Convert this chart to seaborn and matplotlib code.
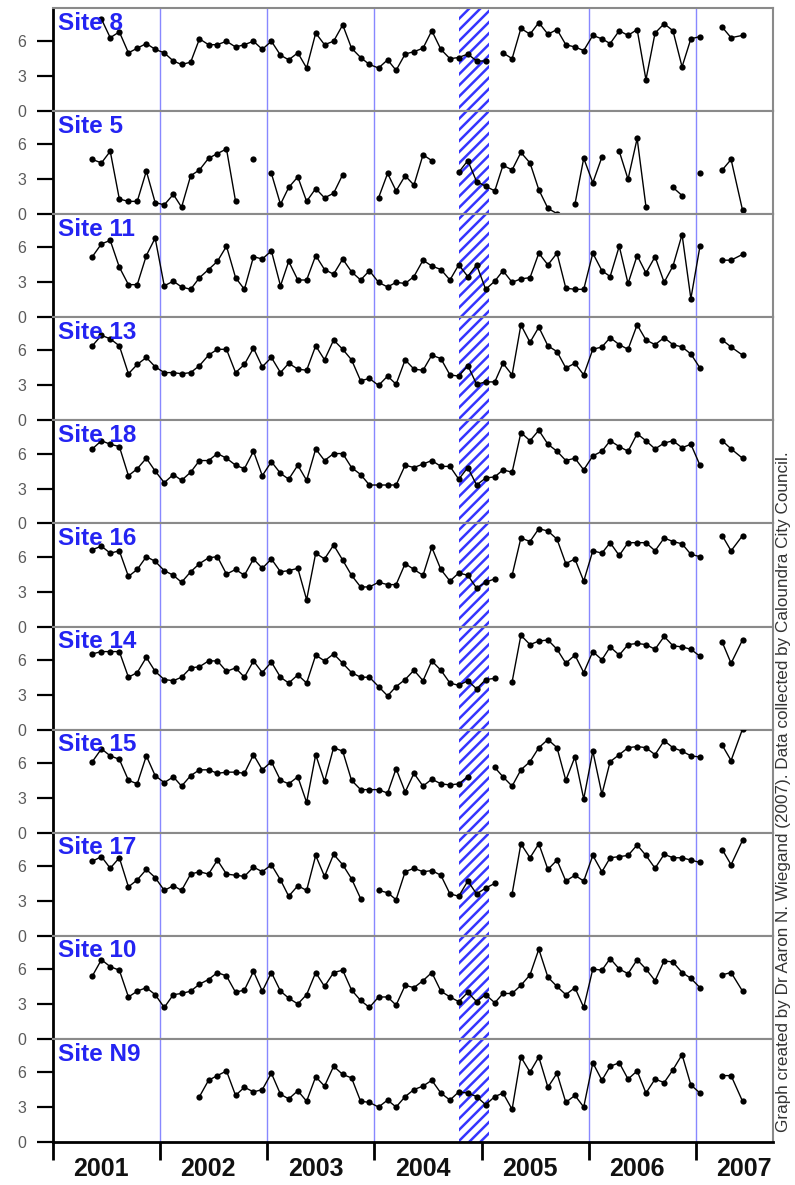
import numpy as np
import pandas as pd
import matplotlib
matplotlib.use("Agg")
import matplotlib.pyplot as plt
import seaborn as sns

sns.set_style("white")
plt.rcParams["font.family"] = ["Liberation Sans", "DejaVu Sans"]
plt.rcParams["hatch.linewidth"] = 1.8

# Sampling dates: monthly visits May 2001 - Jan 2007, then three visits in 2007
monthly = pd.date_range("2001-05-01", "2007-01-01", freq="MS") + pd.Timedelta(days=14)
extra_visits = pd.to_datetime(["2007-04-01", "2007-05-01", "2007-06-09"])
sample_dates = monthly.append(extra_visits)

site_names = ["Site 8", "Site 5", "Site 11", "Site 13", "Site 18", "Site 16",
              "Site 14", "Site 15", "Site 17", "Site 10", "Site N9"]

N = None
# one row per year: 2001 (May-Dec), 2002 ... 2006, then Jan 2007 + three 2007 visits
site_8 = [N, 7.9, 6.3, 6.8, 5.0, 5.4, 5.8, 5.3,
          5.0, 4.3, 4.0, 4.2, 6.2, 5.7, 5.7, 6.0, 5.5, 5.7, 6.0, 5.3,
          6.0, 4.8, 4.4, 5.0, 3.7, 6.7, 5.7, 6.0, 7.4, 5.4, 4.6, 4.0,
          3.7, 4.4, 3.5, 4.9, 5.1, 5.4, 6.9, 5.3, 4.5, 4.6, 4.9, 4.3,
          4.3, N, 5.0, 4.5, 7.1, 6.6, 7.6, 6.6, 7.0, 5.7, 5.5, 5.2,
          6.5, 6.2, 5.8, 6.9, 6.5, 7.0, 2.7, 6.7, 7.5, 6.9, 3.8, 6.2,
          6.4, 7.2, 6.3, 6.5]
site_5 = [4.7, 4.4, 5.4, 1.3, 1.1, 1.1, 3.7, 1.0,
          0.8, 1.7, 0.6, 3.3, 3.8, 4.8, 5.2, 5.6, 1.1, N, 4.7, N,
          3.5, 0.85, 2.3, 3.2, 1.1, 2.2, 1.4, 1.8, 3.4, N, N, N,
          1.4, 3.5, 2.0, 3.3, 2.5, 5.1, 4.6, N, N, 3.6, 4.6, 2.8,
          2.4, 2.0, 4.2, 3.8, 5.3, 4.4, 2.1, 0.5, 0.05, N, 0.85, 4.8,
          2.7, 4.9, N, 5.4, 3.0, 6.5, 0.65, N, N, 2.3, 1.6, N,
          3.5, 3.8, 4.7, 0.35]
site_11 = [5.2, 6.3, 6.6, 4.3, 2.8, 2.8, 5.3, 6.8,
           2.7, 3.1, 2.6, 2.4, 3.4, 4.1, 4.8, 6.1, 3.4, 2.4, 5.2, 5.0,
           5.7, 2.7, 4.8, 3.2, 3.2, 5.3, 4.1, 3.7, 5.0, 3.9, 3.2, 4.0,
           3.0, 2.6, 3.0, 2.9, 3.5, 4.9, 4.4, 4.1, 3.2, 4.5, 3.5, 4.5,
           2.4, 3.1, 4.0, 3.0, 3.3, 3.4, 5.5, 4.5, 5.5, 2.5, 2.4, 2.4,
           5.5, 4.0, 3.5, 6.1, 2.9, 5.3, 3.8, 5.2, 3.0, 4.4, 7.1, 1.6,
           6.1, 4.9, 4.9, 5.4]
site_13 = [6.4, 7.3, 7.0, 6.4, 4.0, 4.8, 5.4, 4.6,
           4.1, 4.1, 4.0, 4.1, 4.7, 5.6, 6.1, 6.1, 4.1, 4.8, 6.2, 4.6,
           5.4, 4.1, 4.9, 4.4, 4.3, 6.4, 5.2, 6.9, 6.1, 5.2, 3.4, 3.6,
           3.0, 3.8, 3.1, 5.2, 4.4, 4.3, 5.6, 5.3, 3.9, 3.8, 4.7, 3.1,
           3.3, 3.3, 4.9, 3.9, 8.2, 6.7, 8.0, 6.4, 5.9, 4.5, 4.9, 3.9,
           6.1, 6.3, 7.1, 6.5, 6.1, 8.2, 6.9, 6.5, 7.1, 6.5, 6.3, 5.7,
           4.5, 6.9, 6.3, 5.6]
site_18 = [6.4, 7.1, 6.8, 6.6, 4.1, 4.7, 5.6, 4.5,
           3.5, 4.2, 3.7, 4.4, 5.4, 5.4, 6.0, 5.6, 5.0, 4.7, 6.2, 4.1,
           5.3, 4.3, 3.8, 5.0, 3.7, 6.4, 5.4, 6.0, 6.0, 4.8, 4.2, 3.3,
           3.3, 3.3, 3.3, 5.0, 4.8, 5.1, 5.4, 4.9, 4.9, 3.8, 4.8, 3.3,
           3.9, 4.0, 4.6, 4.4, 7.8, 7.1, 8.0, 6.8, 6.2, 5.4, 5.6, 4.6,
           5.8, 6.2, 7.1, 6.6, 6.2, 7.7, 7.1, 6.4, 6.9, 7.1, 6.5, 6.8,
           5.0, 7.1, 6.4, 5.6]
site_16 = [6.6, 6.9, 6.3, 6.5, 4.3, 4.9, 6.0, 5.6,
           4.8, 4.4, 3.8, 4.7, 5.4, 5.9, 6.0, 4.5, 4.9, 4.4, 5.8, 5.0,
           5.8, 4.7, 4.8, 5.0, 2.3, 6.3, 5.8, 7.0, 5.7, 4.4, 3.4, 3.4,
           3.8, 3.6, 3.6, 5.4, 4.9, 4.4, 6.8, 4.9, 3.9, 4.6, 4.4, 3.3,
           3.8, 4.1, N, 4.4, 7.6, 7.3, 8.4, 8.2, 7.5, 5.4, 5.8, 3.9,
           6.5, 6.3, 7.2, 6.1, 7.2, 7.2, 7.2, 6.5, 7.6, 7.3, 7.1, 6.2,
           6.0, 7.8, 6.5, 7.8]
site_14 = [6.5, 6.7, 6.7, 6.7, 4.5, 4.9, 6.2, 5.0,
           4.3, 4.2, 4.5, 5.3, 5.4, 5.9, 5.9, 5.0, 5.3, 4.5, 5.9, 4.9,
           5.8, 4.5, 4.0, 4.7, 4.0, 6.4, 5.9, 6.5, 5.7, 4.9, 4.5, 4.5,
           3.7, 2.9, 3.7, 4.3, 5.1, 4.2, 5.9, 5.1, 4.0, 3.8, 4.2, 3.5,
           4.3, 4.4, N, 4.1, 8.1, 7.3, 7.6, 7.7, 6.9, 5.7, 6.4, 4.9,
           6.7, 6.0, 7.1, 6.4, 7.3, 7.4, 7.3, 6.9, 8.0, 7.2, 7.1, 6.9,
           6.3, 7.5, 5.7, 7.7]
site_15 = [6.1, 7.2, 6.6, 6.3, 4.5, 4.2, 6.6, 4.9,
           4.3, 4.8, 4.0, 4.9, 5.4, 5.4, 5.1, 5.2, 5.2, 5.1, 6.7, 5.4,
           6.1, 4.5, 4.2, 4.8, 2.6, 6.7, 4.4, 7.3, 7.0, 4.5, 3.7, 3.7,
           3.7, 3.4, 5.5, 3.5, 5.1, 4.0, 4.6, 4.2, 4.1, 4.2, 4.8, N,
           N, 5.6, 4.8, 4.0, 5.4, 6.1, 7.3, 8.0, 7.3, 4.5, 6.5, 2.9,
           7.0, 3.3, 6.1, 6.7, 7.3, 7.4, 7.3, 6.7, 7.9, 7.3, 7.0, 6.6,
           6.5, 7.5, 6.2, 8.9]
site_17 = [6.4, 6.8, 5.8, 6.7, 4.2, 4.8, 5.7, 5.0,
           3.9, 4.3, 3.9, 5.3, 5.5, 5.3, 6.5, 5.3, 5.2, 5.1, 5.9, 5.5,
           6.1, 4.8, 3.4, 4.3, 3.9, 6.9, 5.1, 7.0, 6.1, 4.9, 3.2, N,
           3.9, 3.7, 3.1, 5.5, 5.8, 5.5, 5.6, 5.2, 3.6, 3.4, 4.7, 3.6,
           4.1, 4.5, N, 3.6, 7.9, 6.7, 7.9, 5.7, 6.5, 4.7, 5.2, 4.7,
           6.9, 5.5, 6.7, 6.8, 6.9, 7.8, 6.9, 5.8, 7.0, 6.7, 6.7, 6.5,
           6.3, 7.4, 6.1, 8.2]
site_10 = [5.4, 6.8, 6.2, 5.9, 3.6, 4.1, 4.4, 3.8,
           2.7, 3.8, 3.9, 4.1, 4.7, 5.1, 5.7, 5.4, 4.0, 4.2, 5.8, 4.1,
           5.7, 4.1, 3.5, 3.0, 3.8, 5.7, 4.5, 5.7, 5.9, 4.2, 3.3, 2.7,
           3.6, 3.6, 2.9, 4.6, 4.4, 5.0, 5.7, 4.1, 3.6, 3.2, 4.0, 3.2,
           3.8, 3.1, 3.9, 3.9, 4.6, 5.5, 7.7, 5.3, 4.5, 3.8, 4.4, 2.7,
           6.0, 5.9, 6.9, 6.0, 5.6, 6.8, 6.0, 5.0, 6.7, 6.6, 5.7, 5.2,
           4.4, 5.5, 5.7, 4.1]
site_n9 = [N, N, N, N, N, N, N, N,
           N, N, N, N, 3.9, 5.3, 5.7, 6.1, 4.0, 4.7, 4.3, 4.5,
           5.9, 4.1, 3.7, 4.4, 3.5, 5.6, 4.8, 6.5, 5.8, 5.5, 3.5, 3.4,
           3.0, 3.6, 3.0, 3.9, 4.5, 4.8, 5.3, 4.2, 3.6, 4.3, 4.2, 3.9,
           3.2, 3.9, 4.2, 2.8, 7.3, 6.0, 7.3, 4.7, 5.9, 3.4, 4.0, 3.0,
           6.8, 5.3, 6.5, 6.8, 5.4, 6.1, 4.2, 5.4, 5.1, 6.2, 7.5, 4.9,
           4.2, 5.7, 5.7, 3.5]

site_values = [site_8, site_5, site_11, site_13, site_18, site_16,
               site_14, site_15, site_17, site_10, site_n9]

year_ticks = [2001, 2002, 2003, 2004, 2005, 2006, 2007]
year_lines = [2002, 2003, 2004, 2006, 2007]
wet_period = (2004.79, 2005.07)

days_in_year = np.where(sample_dates.is_leap_year, 366.0, 365.0)
decimal_year = np.asarray(sample_dates.year + (sample_dates.dayofyear - 1) / days_in_year)
# a visit more than ~6 weeks after the previous one starts a new line segment
long_gap = np.r_[False, np.diff(sample_dates.values).astype("timedelta64[D]").astype(int) > 45]

frames = []
for name, vals in zip(site_names, site_values):
    v = np.array([np.nan if x is None else x for x in vals], dtype=float)
    ok = ~np.isnan(v)
    seg = np.cumsum(~ok | long_gap)  # break the line at missing visits and long gaps
    frames.append(pd.DataFrame({"site": name, "year": decimal_year[ok],
                                "value": v[ok], "segment": seg[ok]}))
data = pd.concat(frames, ignore_index=True)

fig, axes = plt.subplots(len(site_names), 1, figsize=(7.95, 11.85), dpi=100, sharex=True)
fig.subplots_adjust(left=53 / 795, right=773 / 795, top=1 - 8 / 1185,
                    bottom=1 - 1142 / 1185, hspace=0)

blue = "#2424f2"
for ax, name in zip(axes, site_names):
    ax.axvspan(*wet_period, facecolor="white", edgecolor="#3535ff", hatch="///",
               lw=0, zorder=1)
    for yr in year_lines:
        ax.axvline(yr, color="#8888ff", lw=1.0, zorder=0.5)
    sub = data[data["site"] == name]
    sns.lineplot(data=sub, x="year", y="value", units="segment", estimator=None,
                 color="black", lw=1.0, marker="o", markersize=4.5,
                 markeredgewidth=0, ax=ax, zorder=3, legend=False)
    ax.set_xlim(2001, 2007.72)
    ax.set_ylim(0, 8.85)
    ax.set_yticks([0, 3, 6])
    ax.set_xlabel("")
    ax.set_ylabel("")
    ax.tick_params(axis="y", direction="out", length=11.5, width=1.6, color="black",
                   labelcolor="#5a5a5a", labelsize=11.5, pad=8, left=True)
    ax.tick_params(axis="x", which="both", bottom=False, labelbottom=False)
    for side in ("top", "bottom", "right"):
        ax.spines[side].set_color("#8a8a8a")
        ax.spines[side].set_linewidth(1.5)
    ax.spines["left"].set_color("black")
    ax.spines["left"].set_linewidth(2.0)
    ax.text(0.007, 0.965, name, transform=ax.transAxes, ha="left", va="top",
            color=blue, fontsize=17.5, fontweight="bold", zorder=5)

last = axes[-1]
last.spines["bottom"].set_color("black")
last.spines["bottom"].set_linewidth(2.0)
last.set_xticks(year_ticks)
last.set_xticks([y + 0.45 for y in year_ticks], minor=True)
last.set_xticklabels([str(y) for y in year_ticks], minor=True)
last.tick_params(axis="x", which="major", bottom=True, labelbottom=False,
                 direction="out", length=13, width=2.0, color="black")
last.tick_params(axis="x", which="minor", bottom=True, labelbottom=True,
                 length=0, pad=11, labelsize=18, labelcolor="#111111")
for lab in last.get_xticklabels(minor=True):
    lab.set_fontweight("bold")

fig.text(0.985, 1 - 792 / 1185,
         "Graph created by Dr Aaron N. Wiegand (2007). Data collected by Caloundra City Council.",
         rotation=90, ha="center", va="center", fontsize=12.3, color="#333333")

fig.savefig("out.png", dpi=100)
